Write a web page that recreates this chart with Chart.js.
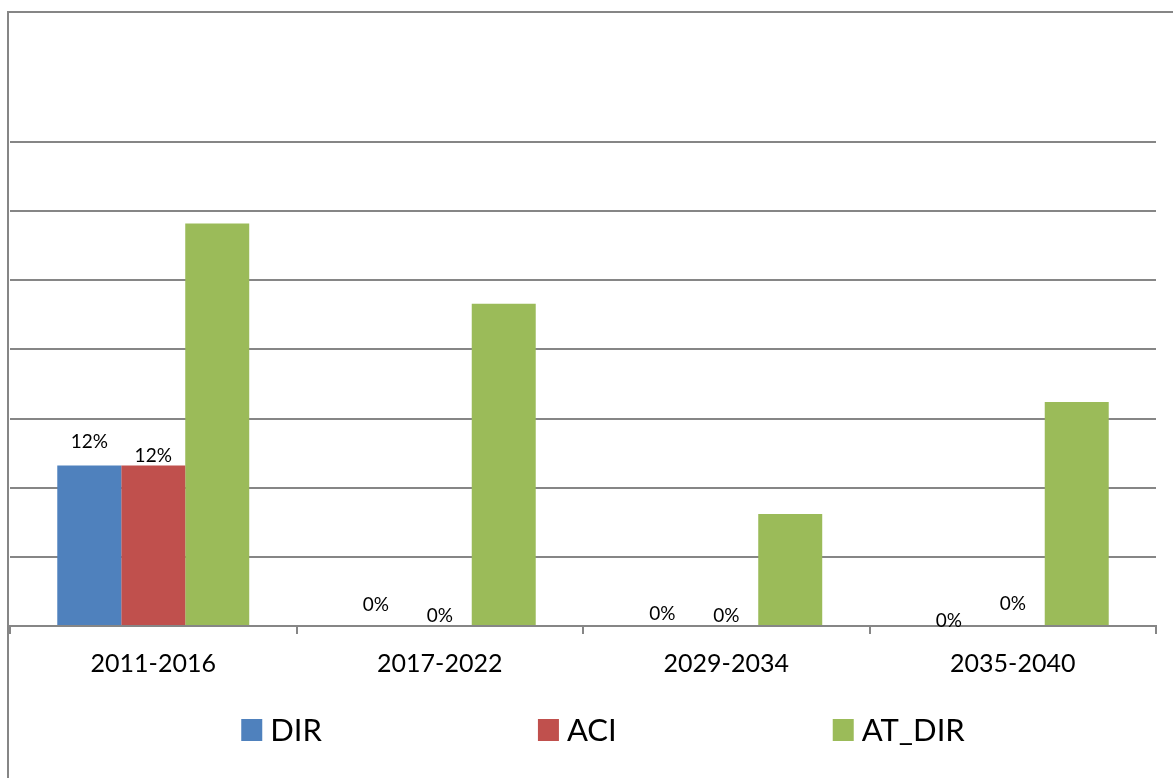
<!DOCTYPE html>
<html lang="en">
<head>
<meta charset="UTF-8">
<title>chart</title>
<script src="https://cdn.jsdelivr.net/npm/chart.js"></script>
<style>
  html, body { margin: 0; padding: 0; background: #fff; }
</style>
</head>
<body>
<canvas id="barChart" width="1173" height="778"></canvas>
<script>
// data (percent)
const periods = ['2011-2016', '2017-2022', '2029-2034', '2035-2040'];
const dir = [11.6, 0, 0, 0];
const aci = [11.6, 0, 0, 0];
const atDir = [29.1, 23.3, 8.1, 16.2];
const yTicks = [0, 5, 10, 15, 20, 25, 30, 35];

// how far above the bar top each value label sits (Excel moved some of them)
const labelLift = [[24, 21, 12, 5], [10, 10, 10, 22]];

const grey = '#868686';
const font = 'Lato, "Liberation Sans", sans-serif';

// outer frame of the chart object
const framePlugin = {
    id: 'frame',
    beforeDraw(chart) {
        const ctx = chart.ctx;
        ctx.save();
        ctx.fillStyle = '#fff';
        ctx.fillRect(0, 0, chart.width, chart.height);
        ctx.strokeStyle = grey;
        ctx.lineWidth = 2;
        ctx.strokeRect(8, 12, chart.width + 20, chart.height + 20);
        ctx.restore();
    }
};

// value labels on DIR and ACI
const valueLabels = {
    id: 'valueLabels',
    afterDatasetsDraw(chart) {
        const ctx = chart.ctx;
        ctx.save();
        ctx.font = '19px ' + font;
        ctx.fillStyle = '#000';
        ctx.textAlign = 'center';
        ctx.textBaseline = 'middle';
        [0, 1].forEach(di => {
            const meta = chart.getDatasetMeta(di);
            meta.data.forEach((bar, i) => {
                const v = chart.data.datasets[di].data[i];
                ctx.fillText(Math.round(v) + '%', bar.x, bar.y - labelLift[di][i]);
            });
        });
        ctx.restore();
    }
};

// Excel style legend: equal gaps between entries
const bottomLegend = {
    id: 'bottomLegend',
    afterDraw(chart) {
        const ctx = chart.ctx;
        const boxW = 21, boxH = 22, gapText = 8, gapItem = 216;
        ctx.save();
        ctx.font = '31px ' + font;
        ctx.textBaseline = 'middle';
        const items = chart.data.datasets.map(ds => ({
            text: ds.label, color: ds.backgroundColor,
            w: boxW + gapText + ctx.measureText(ds.label).width
        }));
        const total = items.reduce((s, it) => s + it.w, 0) + gapItem * (items.length - 1);
        const cy = 730;
        let x = (chart.chartArea.left + chart.chartArea.right) / 2 + 20 - total / 2;
        items.forEach(it => {
            ctx.fillStyle = it.color;
            ctx.fillRect(x, cy - boxH / 2, boxW, boxH);
            ctx.fillStyle = '#000';
            ctx.fillText(it.text, x + boxW + gapText, cy + 1);
            x += it.w + gapItem;
        });
        ctx.restore();
    }
};

const ctx = document.getElementById('barChart').getContext('2d');
new Chart(ctx, {
    type: 'bar',
    data: {
        labels: periods,
        datasets: [
            { label: 'DIR', data: dir, backgroundColor: '#4F81BD' },
            { label: 'ACI', data: aci, backgroundColor: '#C0504D' },
            { label: 'AT_DIR', data: atDir, backgroundColor: '#9BBB59' }
        ]
    },
    options: {
        responsive: false,
        devicePixelRatio: 1,
        animation: false,
        categoryPercentage: 0.67,
        barPercentage: 1,
        layout: { padding: { top: 142, left: 10, right: 17, bottom: 84 } },
        plugins: {
            legend: { display: false },
            tooltip: { enabled: false }
        },
        scales: {
            x: {
                grid: { color: grey, lineWidth: 2, drawOnChartArea: false, tickLength: 8, offset: true },
                border: { color: grey, width: 2 },
                ticks: { color: '#000', font: { family: font, size: 25 }, padding: 15 }
            },
            y: {
                min: yTicks[0],
                max: yTicks[yTicks.length - 1],
                afterBuildTicks: axis => { axis.ticks = yTicks.map(v => ({ value: v })); },
                grid: { color: grey, lineWidth: 2, drawTicks: false },
                border: { display: false },
                ticks: { display: false }
            }
        }
    },
    plugins: [framePlugin, valueLabels, bottomLegend]
});
</script>
</body>
</html>
